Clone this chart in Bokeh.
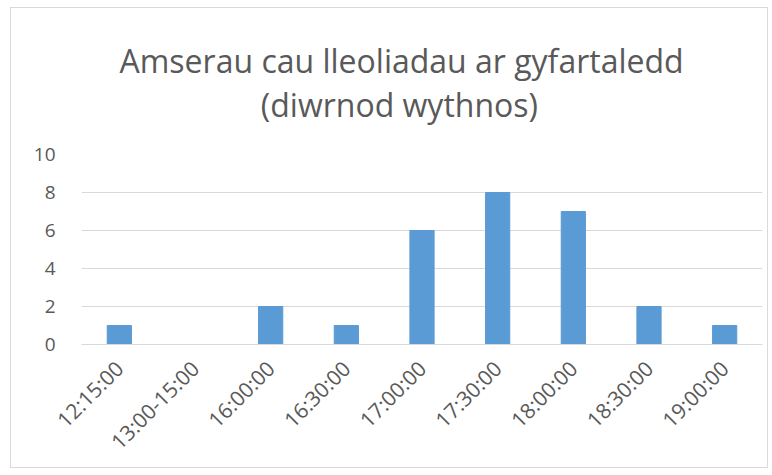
from bokeh.plotting import figure
from bokeh.models import ColumnDataSource, Range1d, FixedTicker
from bokeh.embed import file_html
from bokeh.resources import INLINE
import math

categories = ["12:15:00", "13:00-15:00", "16:00:00", "16:30:00", "17:00:00",
              "17:30:00", "18:00:00", "18:30:00", "19:00:00"]
counts = [1, 0, 2, 1, 6, 8, 7, 2, 1]
y_ticks = [0, 2, 4, 6, 8, 10]
title_line1 = "Amserau cau lleoliadau ar gyfartaledd"
title_line2 = "(diwrnod wythnos)"

source = ColumnDataSource(data=dict(cat=categories, val=counts))

p = figure(x_range=categories, width=758, height=461, output_backend="svg",
           toolbar_location=None,
           title=title_line1 + "\n" + "\u00a0" * 17 + title_line2,
           min_border_left=70, min_border_right=7, min_border_top=145,
           min_border_bottom=125)
p.margin = (7, 0, 0, 10)
p.styles = {"border": "1px solid #d9d9d9"}

p.vbar(x="cat", top="val", width=0.32, source=source, color="#5b9bd5")

p.y_range = Range1d(0, 10)
p.x_range.range_padding = 0

p.title.align = "left"
p.title.offset = 38
p.title.standoff = 57
p.title.text_font = "Open Sans"
p.title.text_font_size = "32px"
p.title.text_font_style = "normal"
p.title.text_color = "#595959"
p.title.text_line_height = 1.03

p.outline_line_color = None
p.xgrid.grid_line_color = None
p.ygrid.grid_line_color = "#d9d9d9"
p.ygrid.grid_line_width = 1

p.yaxis.ticker = FixedTicker(ticks=y_ticks)
p.yaxis.axis_line_color = None
p.yaxis.major_tick_line_color = None
p.yaxis.minor_tick_line_color = None
p.yaxis.major_label_text_font = "Open Sans"
p.yaxis.major_label_text_font_size = "19px"
p.yaxis.major_label_text_color = "#595959"
p.yaxis.major_label_standoff = 20

p.xaxis.axis_line_color = "#d9d9d9"
p.xaxis.axis_line_width = 1
p.xaxis.major_tick_line_color = None
p.xaxis.minor_tick_line_color = None
p.xaxis.major_label_orientation = math.pi / 4
p.xaxis.major_label_text_font = "Open Sans"
p.xaxis.major_label_text_font_size = "21px"
p.xaxis.major_label_text_color = "#595959"
p.xaxis.major_label_standoff = 14

open("out.html", "w").write(file_html(p, INLINE))
